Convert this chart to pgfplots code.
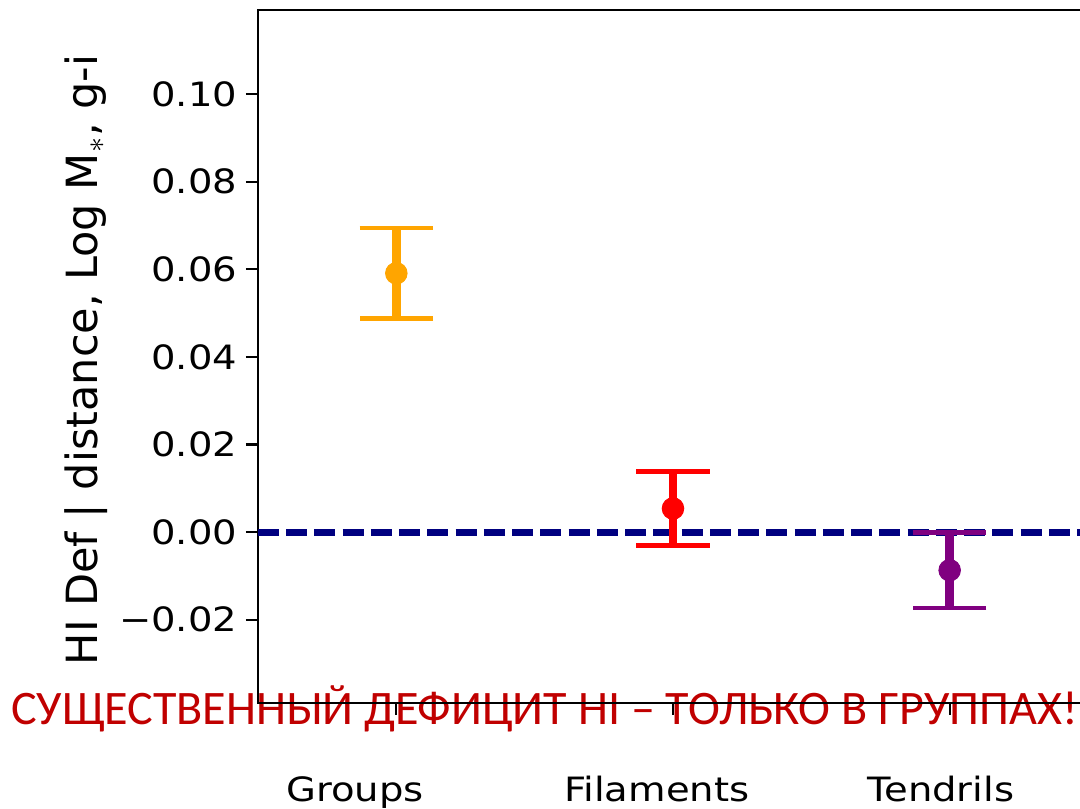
\documentclass[border=0pt]{standalone}
\usepackage{fontspec}
\setmainfont{DejaVu Sans}
\newfontfamily\mplfont[FakeStretch=1.15]{DejaVu Sans}
\newfontfamily\slidefont{Carlito}
\usepackage{pgfplots}
\usepackage{pgfplotstable}
\pgfplotsset{compat=1.18}
\usetikzlibrary{calc}
\definecolor{mplorange}{HTML}{FFA500}
\definecolor{mplred}{HTML}{FF0000}
\definecolor{mplpurple}{HTML}{800080}
\definecolor{mplnavy}{HTML}{000080}
\definecolor{slidered}{HTML}{C00000}
\pgfplotstableread{
x y err
0 0.0591 0.0103
}\groups
\pgfplotstableread{
x y err
1 0.0054 0.0084
}\filaments
\pgfplotstableread{
x y err
2 -0.0087 0.0086
}\tendrils
\pgfplotsset{
  ebar/.style={only marks, mark=*, mark size=4.3pt, color=#1,
    error bars/.cd, y dir=both, y explicit,
    error bar style={line width=3.4pt, color=#1},
    error mark options={line width=1.8pt, mark size=14.7pt, rotate=90, color=#1}}
}
\begin{document}
\begin{tikzpicture}
\node[anchor=base, inner sep=0pt, text=slidered, font=\slidefont\fontsize{19.25}{24}\selectfont]
  at (114.6pt,-8.8pt) {СУЩЕСТВЕННЫЙ ДЕФИЦИТ HI – ТОЛЬКО В ГРУППАХ!};
\begin{axis}[
  at={(0pt,0pt)}, anchor=south west,
  scale only axis, width=332pt, height=277.2pt,
  xmin=-0.5, xmax=2.5, ymin=-0.039, ymax=0.1192,
  xtick={0,1,2}, xticklabels={,,},
  extra x ticks={-0.150,0.941,1.968},
  extra x tick labels={Groups,Filaments,Tendrils},
  extra x tick style={tick style={draw=none}},
  ytick={-0.02,0,0.02,0.04,0.06,0.08,0.10},
  yticklabels={−0.02,0.00,0.02,0.04,0.06,0.08,0.10},
  xtick pos=left, ytick pos=left,
  tick align=outside, major tick length=4.8pt,
  every tick/.style={black, line width=0.9pt},
  axis line style={black, line width=0.9pt},
  ticklabel style={font=\mplfont\fontsize{13.4}{16}\selectfont},
  xticklabel style={anchor=base, yshift=-34.6pt},
  ylabel={HI Def | distance, Log M$_{*}$, g-i},
  ylabel style={at={(axis description cs:-0.193,0.495)}, anchor=base, font=\fontsize{17.2}{20}\selectfont},
]
\coordinate (sw) at (rel axis cs:0,0);
\addplot[mplnavy, line width=2.8pt, dash pattern=on 8.4pt off 2.9pt, forget plot] coordinates {(-0.5,0) (2.5,0)};
\addplot[ebar=mplorange] table[x=x, y=y, y error=err] {\groups};
\addplot[ebar=mplred] table[x=x, y=y, y error=err] {\filaments};
\addplot[ebar=mplpurple] table[x=x, y=y, y error=err] {\tendrils};
\end{axis}
\pgfresetboundingbox
\path[use as bounding box] ($(sw)+(-103.2pt,-42.4pt)$) rectangle ($(sw)+(328.8pt,281.2pt)$);
\end{tikzpicture}
\end{document}
